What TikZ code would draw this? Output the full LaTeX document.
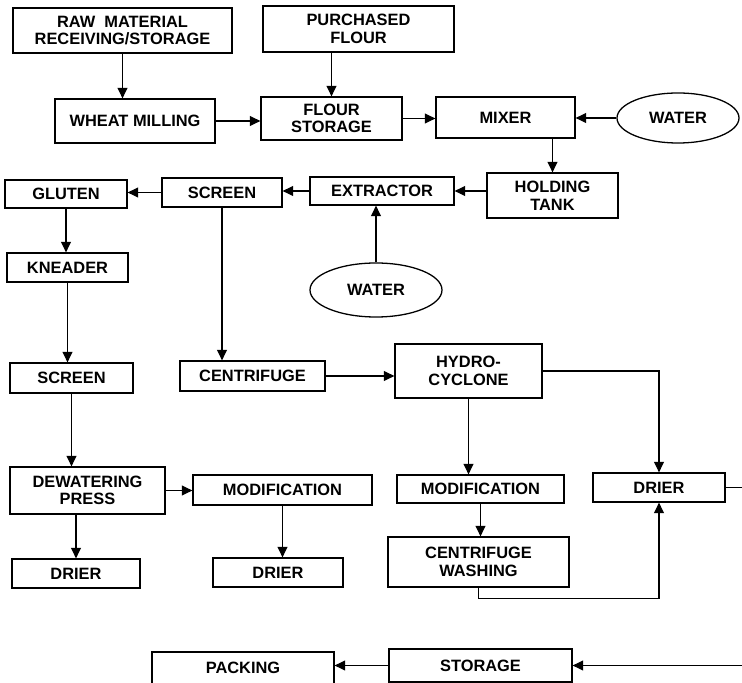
\documentclass[tikz,border=0pt]{standalone}
\usepackage{fontspec}
\setmainfont{Liberation Sans}
\usetikzlibrary{arrows.meta,shapes.geometric}

\begin{document}
\begin{tikzpicture}[>={Triangle[length=9pt,width=8.5pt]}, x=0.3mm, y=-0.3mm, line width=1.1pt,
  blk/.style 2 args={draw, minimum width=#1*0.3mm, minimum height=#2*0.3mm, inner sep=0pt,
    align=center, font=\fontsize{14}{15}\selectfont\bfseries},
  src/.style 2 args={blk={#1}{#2}, ellipse}]
\useasboundingbox (0,0) rectangle (742,683);
\node[blk={219}{45}] (raw) at (122.5,30.5) {RAW\ \ MATERIAL\\RECEIVING/STORAGE};
\node[blk={191}{46}] (purch) at (358.5,29) {PURCHASED\\FLOUR};
\node[blk={160}{44}] (wheat) at (135,121) {WHEAT MILLING};
\node[blk={141}{43}] (flour) at (331.5,118.5) {FLOUR\\STORAGE};
\node[blk={139}{41}] (mixer) at (505.5,117.5) {MIXER};
\node[src={122}{50}] (water1) at (678,118) {WATER};
\node[blk={131}{45}] (holding) at (552.5,195.5) {HOLDING\\TANK};
\node[blk={144}{28}] (extractor) at (382,191) {EXTRACTOR};
\node[blk={120}{29}] (screenA) at (222,192.5) {SCREEN};
\node[blk={122}{28}] (gluten) at (66,194) {GLUTEN};
\node[src={132}{54}] (water2) at (376,290) {WATER};
\node[blk={121}{29}] (kneader) at (67.5,267.5) {KNEADER};
\node[blk={123}{30}] (screenB) at (71.5,378) {SCREEN};
\node[blk={145}{30}] (centrifuge) at (252.5,376) {CENTRIFUGE};
\node[blk={147}{54}] (hydro) at (468.5,371) {HYDRO-\\CYCLONE};
\node[blk={155}{47}] (dew) at (87.5,490.5) {DEWATERING\\PRESS};
\node[blk={179}{30}] (modL) at (282.5,490) {MODIFICATION};
\node[blk={167}{28}] (modR) at (480.5,489) {MODIFICATION};
\node[blk={132}{29}] (drierR) at (659,487.5) {DRIER};
\node[blk={181}{50}] (washing) at (478.5,562) {CENTRIFUGE\\WASHING};
\node[blk={128}{29}] (drier1) at (76,573.5) {DRIER};
\node[blk={130}{29}] (drier2) at (278,572.5) {DRIER};
\node[blk={183}{33}] (storage) at (480.5,665.5) {STORAGE};
\node[blk={182}{32}] (packing) at (243,668) {PACKING};
\coordinate (outR) at (742,487.5);
\coordinate (inR) at (742,665.5);
\draw[->] (raw.south) -- (raw.south |- wheat.north);
\draw[->] (purch.south -| flour.north) -- (flour.north);
\draw[->] (wheat.east) -- (wheat.east -| flour.west);
\draw[->] (flour.east) -- (flour.east -| mixer.west);
\draw[->] (water1.west) -- (water1.west -| mixer.east);
\draw[->] (mixer.south -| holding.north) -- (holding.north);
\draw[->] (holding.west |- extractor.east) -- (extractor.east);
\draw[->] (extractor.west) -- (extractor.west -| screenA.east);
\draw[->] (screenA.west) -- (screenA.west -| gluten.east);
\draw[->] (water2.north) -- (water2.north |- extractor.south);
\draw[->] (gluten.south) -- (gluten.south |- kneader.north);
\draw[->] (kneader.south) -- (kneader.south |- screenB.north);
\draw[->] (screenB.south) -- (screenB.south |- dew.north);
\draw[->] (screenA.south) -- (screenA.south |- centrifuge.north);
\draw[->] (centrifuge.east) -- (centrifuge.east -| hydro.west);
\draw[->] (hydro.east) -| (drierR.north);
\draw[->] (hydro.south) -- (hydro.south |- modR.north);
\draw[->] (modR.south) -- (modR.south |- washing.north);
\draw[->] (washing.south) -- ++(0,11) -| (drierR.south);
\draw (drierR.east) -- (outR);
\draw[->] (dew.east) -- (dew.east -| modL.west);
\draw[->] (dew.south -| drier1.north) -- (drier1.north);
\draw[->] (modL.south) -- (modL.south |- drier2.north);
\draw[->] (inR) -- (storage.east);
\draw[->] (storage.west) -- (storage.west -| packing.east);
\end{tikzpicture}
\end{document}
